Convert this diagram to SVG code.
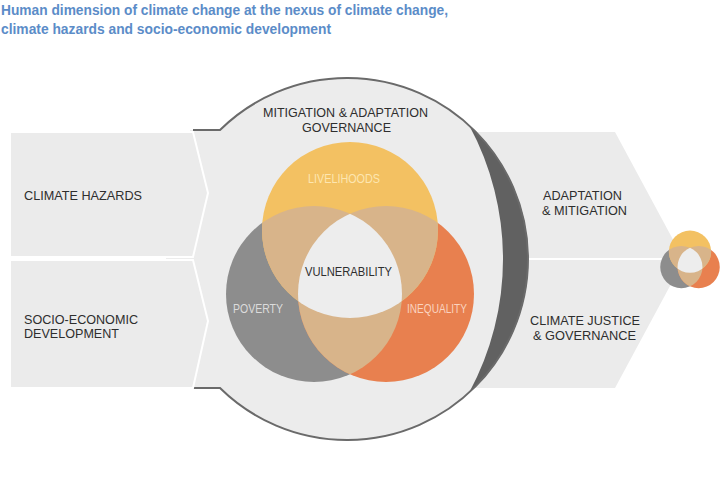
<svg xmlns="http://www.w3.org/2000/svg" xmlns:xlink="http://www.w3.org/1999/xlink" width="720" height="491" viewBox="0 0 720 491">
<style>
.t{font-family:"Liberation Sans",Arial,sans-serif;font-size:13.5px;fill:#2e2e2e}
.title{font-family:"Liberation Sans",Arial,sans-serif;font-size:14px;font-weight:bold;fill:#5b8cc8}
.panel{fill:#ebebeb;stroke:#fff;stroke-width:2}
.y{fill:#f3c162}.g{fill:#8d8d8d}.o{fill:#e8804f}.ov{fill:#d8b48a}.c{fill:#ededed}
</style>
<defs>
<clipPath id="cG"><circle cx="314" cy="294" r="88"/></clipPath>
<clipPath id="cO"><circle cx="386" cy="294" r="88"/></clipPath>
<g id="venn">
<circle class="g" cx="314" cy="294" r="88"/>
<circle class="o" cx="386" cy="294" r="88"/>
<circle class="y" cx="350" cy="230" r="88"/>
<circle class="ov" cx="350" cy="230" r="88" clip-path="url(#cG)"/>
<circle class="ov" cx="350" cy="230" r="88" clip-path="url(#cO)"/>
<circle class="ov" cx="314" cy="294" r="88" clip-path="url(#cO)"/>
<g clip-path="url(#cO)"><circle class="c" cx="350" cy="230" r="88" clip-path="url(#cG)"/></g>
</g>
</defs>
<rect width="720" height="491" fill="#fff"/>
<g id="title">
<text class="title" x="1" y="15" textLength="447" lengthAdjust="spacingAndGlyphs">Human dimension of climate change at the nexus of climate change,</text>
<text class="title" x="1" y="34" textLength="330" lengthAdjust="spacingAndGlyphs">climate hazards and socio-economic development</text>
</g>
<g id="right-arrow">
<polygon fill="#ebebeb" points="470,132 615,132 684,260 615,388 470,388"/>
<line x1="520" y1="259" x2="690" y2="259" stroke="#fff" stroke-width="2"/>
<text class="t" x="543" y="200" textLength="79" lengthAdjust="spacingAndGlyphs">ADAPTATION</text>
<text class="t" x="542" y="215" textLength="85" lengthAdjust="spacingAndGlyphs">&amp; MITIGATION</text>
<text class="t" x="530" y="325" textLength="110" lengthAdjust="spacingAndGlyphs">CLIMATE JUSTICE</text>
<text class="t" x="533" y="340" textLength="103" lengthAdjust="spacingAndGlyphs">&amp; GOVERNANCE</text>
</g>
<g id="governance-circle">
<rect x="190" y="130" width="80" height="258" fill="#ececec"/>
<circle cx="347" cy="259" r="181" fill="#ececec"/>
<path d="M469,125 A181,181 0 0 1 469,393 A281,281 0 0 0 469,125 Z" fill="#616161"/>
<path d="M193,130 H220 A181,181 0 1 1 220,388 H193" fill="none" stroke="#6a6a6a" stroke-width="2"/>
<text class="t" x="263" y="117" textLength="165" lengthAdjust="spacingAndGlyphs">MITIGATION &amp; ADAPTATION</text>
<text class="t" x="302" y="132" textLength="89" lengthAdjust="spacingAndGlyphs">GOVERNANCE</text>
</g>
<g id="climate-hazards">
<polygon class="panel" points="10,132 193,132 208,193 193,257 10,257"/>
<text class="t" x="24" y="200" textLength="118" lengthAdjust="spacingAndGlyphs">CLIMATE HAZARDS</text>
</g>
<g id="socio-economic">
<polygon class="panel" points="10,260 193,260 208,321 193,388 10,388"/>
<text class="t" x="24" y="324" textLength="114" lengthAdjust="spacingAndGlyphs">SOCIO-ECONOMIC</text>
<text class="t" x="24" y="338" textLength="95" lengthAdjust="spacingAndGlyphs">DEVELOPMENT</text>
</g>
<g id="vulnerability-venn">
<use xlink:href="#venn"/>
<text class="t" x="308" y="183" textLength="72" lengthAdjust="spacingAndGlyphs" style="fill:#fde6b0">LIVELIHOODS</text>
<text class="t" x="233" y="313" textLength="50" lengthAdjust="spacingAndGlyphs" style="fill:#dcdcdc">POVERTY</text>
<text class="t" x="407" y="313" textLength="60" lengthAdjust="spacingAndGlyphs" style="fill:#fad3bf">INEQUALITY</text>
<text class="t" x="305" y="276" textLength="87" lengthAdjust="spacingAndGlyphs">VULNERABILITY</text>
</g>
<g id="small-venn">
<use xlink:href="#venn" transform="translate(690,262) scale(0.24) translate(-350,-273)"/>
</g>
</svg>
